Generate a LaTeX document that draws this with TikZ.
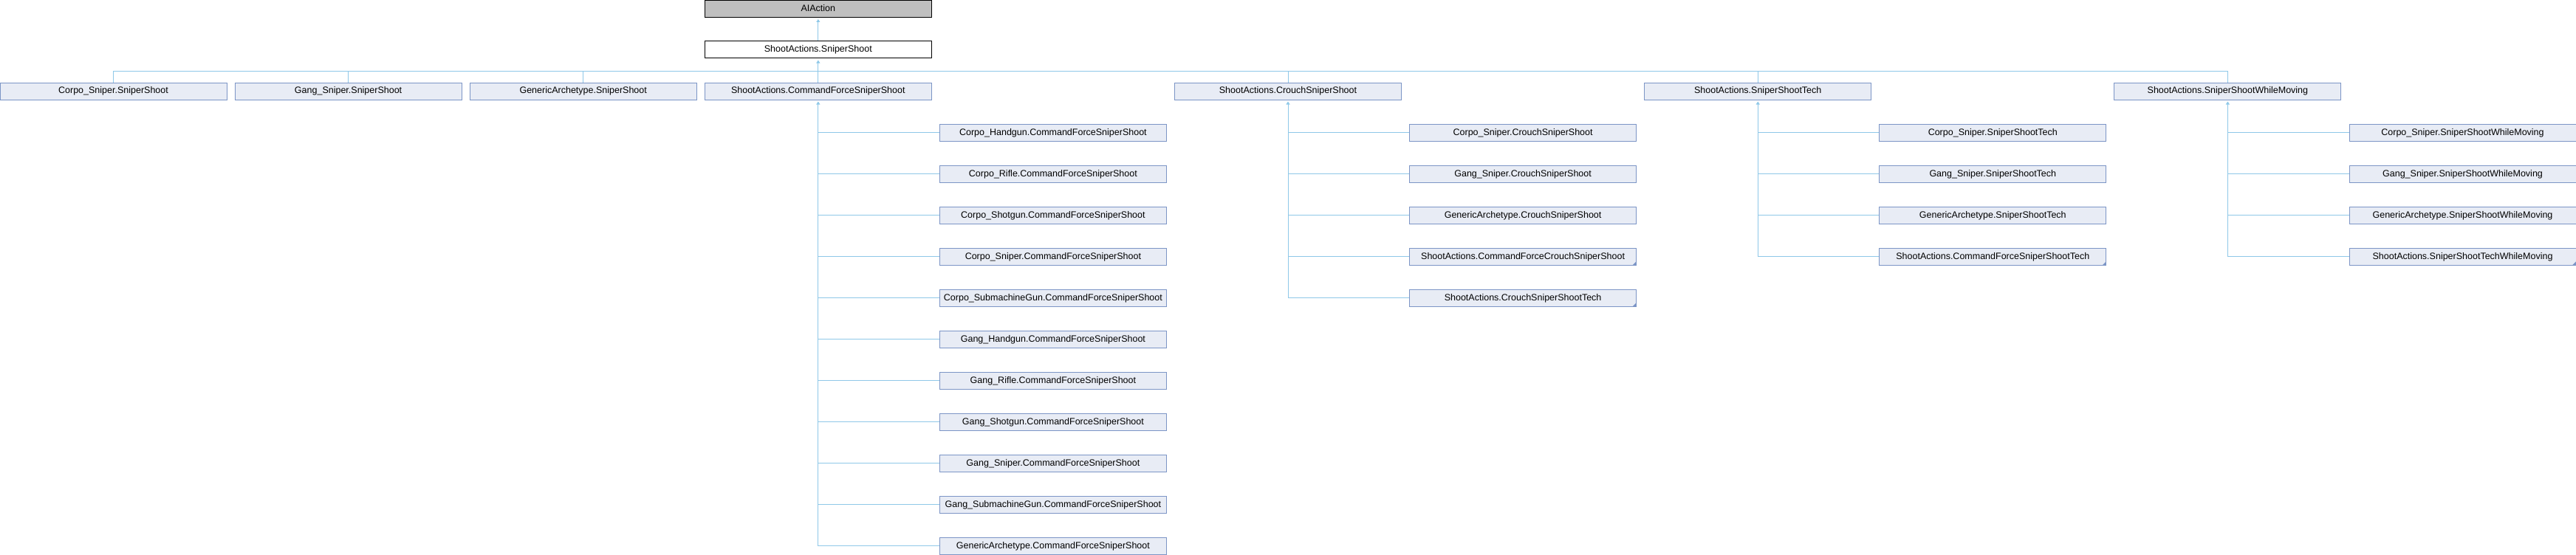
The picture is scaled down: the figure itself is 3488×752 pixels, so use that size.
\documentclass[tikz,border=0pt]{standalone}
\usepackage{fontspec}
\setmainfont{Liberation Sans}
\usetikzlibrary{arrows.meta}
\definecolor{bordc}{RGB}{124,149,198}
\definecolor{fillc}{RGB}{232,236,245}
\definecolor{linec}{RGB}{143,200,232}
\definecolor{grayc}{RGB}{191,191,191}
\tikzset{
  cls/.style={draw=bordc, fill=fillc, line width=1pt, minimum width=307pt, minimum height=23pt, inner sep=0pt, text height=9pt, text depth=2.6pt, font=\fontsize{12.5}{14}\selectfont},
  topgray/.style={cls, draw=black, fill=grayc},
  ssbox/.style={cls, draw=black, fill=white},
  conn/.style={draw=linec, line width=1pt},
  arr/.style={conn, -{Triangle[width=5pt,length=4pt]}, shorten >=2pt},
  corner/.style={fill=bordc}
}
\begin{document}
\begin{tikzpicture}[x=1pt,y=-1pt]
\useasboundingbox (0,0) rectangle (3488,752);
% top
\node[topgray] (ai) at (1107.8,12) {AIAction};
\node[ssbox] (ss) at (1107.8,67.5) {ShootActions.SniperShoot};
% row 1
\node[cls] (csss) at (153.5,123.5) {Corpo\_Sniper.SniperShoot};
\node[cls] (gsss) at (471.6,123.5) {Gang\_Sniper.SniperShoot};
\node[cls] (gass) at (789.7,123.5) {GenericArchetype.SniperShoot};
\node[cls] (cfss) at (1107.8,123.5) {ShootActions.CommandForceSniperShoot};
\node[cls] (crss) at (1744.0,123.5) {ShootActions.CrouchSniperShoot};
\node[cls] (sst) at (2380.2,123.5) {ShootActions.SniperShootTech};
\node[cls] (sswm) at (3016.4,123.5) {ShootActions.SniperShootWhileMoving};
% CFSS children
\node[cls] (a0) at (1425.9,179.8) {Corpo\_Handgun.CommandForceSniperShoot};
\node[cls] (a1) at (1425.9,235.8) {Corpo\_Rifle.CommandForceSniperShoot};
\node[cls] (a2) at (1425.9,291.8) {Corpo\_Shotgun.CommandForceSniperShoot};
\node[cls] (a3) at (1425.9,347.8) {Corpo\_Sniper.CommandForceSniperShoot};
\node[cls] (a4) at (1425.9,403.8) {Corpo\_SubmachineGun.CommandForceSniperShoot};
\node[cls] (a5) at (1425.9,459.8) {Gang\_Handgun.CommandForceSniperShoot};
\node[cls] (a6) at (1425.9,515.8) {Gang\_Rifle.CommandForceSniperShoot};
\node[cls] (a7) at (1425.9,571.8) {Gang\_Shotgun.CommandForceSniperShoot};
\node[cls] (a8) at (1425.9,627.8) {Gang\_Sniper.CommandForceSniperShoot};
\node[cls] (a9) at (1425.9,683.8) {Gang\_SubmachineGun.CommandForceSniperShoot};
\node[cls] (a10) at (1425.9,739.8) {GenericArchetype.CommandForceSniperShoot};
% Crouch children
\node[cls] (b0) at (2062.1,179.8) {Corpo\_Sniper.CrouchSniperShoot};
\node[cls] (b1) at (2062.1,235.8) {Gang\_Sniper.CrouchSniperShoot};
\node[cls] (b2) at (2062.1,291.8) {GenericArchetype.CrouchSniperShoot};
\node[cls] (b3) at (2062.1,347.8) {ShootActions.CommandForceCrouchSniperShoot};
\node[cls] (b4) at (2062.1,403.8) {ShootActions.CrouchSniperShootTech};
% Tech children
\node[cls] (c0) at (2698.3,179.8) {Corpo\_Sniper.SniperShootTech};
\node[cls] (c1) at (2698.3,235.8) {Gang\_Sniper.SniperShootTech};
\node[cls] (c2) at (2698.3,291.8) {GenericArchetype.SniperShootTech};
\node[cls] (c3) at (2698.3,347.8) {ShootActions.CommandForceSniperShootTech};
% WhileMoving children
\node[cls] (d0) at (3334.5,179.8) {Corpo\_Sniper.SniperShootWhileMoving};
\node[cls] (d1) at (3334.5,235.8) {Gang\_Sniper.SniperShootWhileMoving};
\node[cls] (d2) at (3334.5,291.8) {GenericArchetype.SniperShootWhileMoving};
\node[cls] (d3) at (3334.5,347.8) {ShootActions.SniperShootTechWhileMoving};
% corner marks
\foreach \n in {b3,b4,c3,d3}{
  \fill[corner] ([shift={(-0.5,-0.5)}]\n.south east) -- ++(-5,0) -- ++(5,-5) -- cycle;
}
% connectors top
\draw[arr] (ss.north) -- (ai.south);
\coordinate (bus) at (0,96);
\draw[arr] (ss.south |- bus) -- (ss.south);
\draw[conn] (csss.north |- bus) -- (sswm.north |- bus);
\foreach \n in {csss,gsss,gass,cfss,crss,sst,sswm}{
  \draw[conn] (\n.north |- bus) -- (\n.north);
}
% children connectors
\draw[arr] (a10.west) -| (cfss.south);
\foreach \n in {a0,a1,a2,a3,a4,a5,a6,a7,a8,a9}{
  \draw[conn] (\n.west) -- (\n.west -| cfss.south);
}
\draw[arr] (b4.west) -| (crss.south);
\foreach \n in {b0,b1,b2,b3}{
  \draw[conn] (\n.west) -- (\n.west -| crss.south);
}
\draw[arr] (c3.west) -| (sst.south);
\foreach \n in {c0,c1,c2}{
  \draw[conn] (\n.west) -- (\n.west -| sst.south);
}
\draw[arr] (d3.west) -| (sswm.south);
\foreach \n in {d0,d1,d2}{
  \draw[conn] (\n.west) -- (\n.west -| sswm.south);
}
\end{tikzpicture}
\end{document}
